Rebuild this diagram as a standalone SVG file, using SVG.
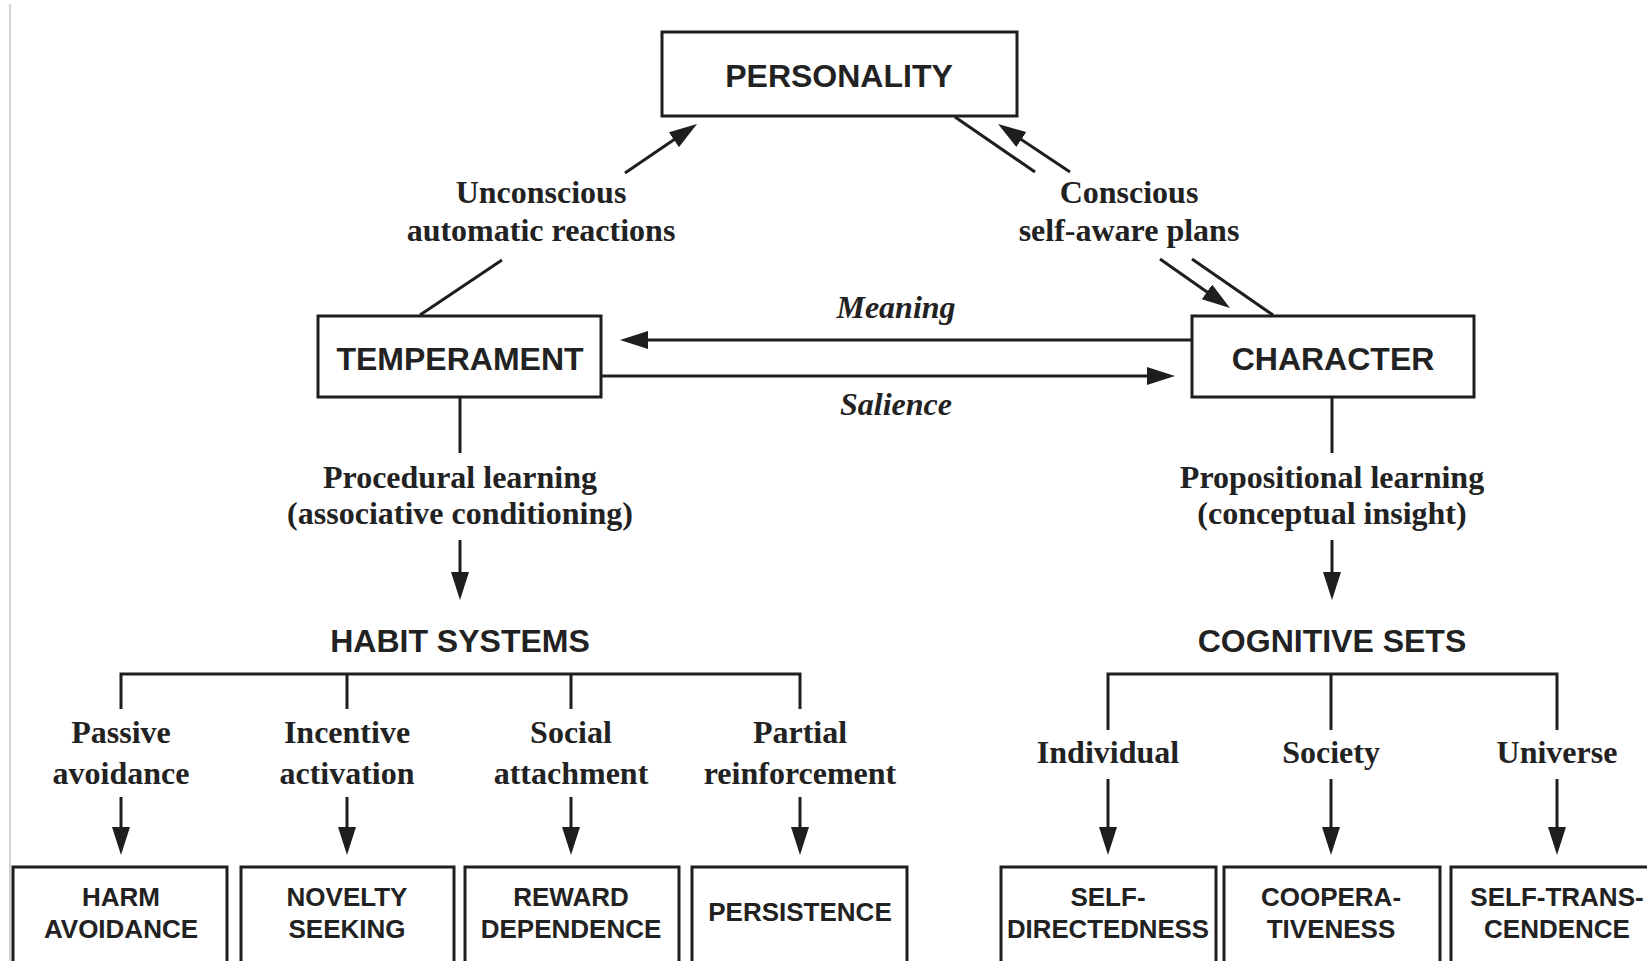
<svg xmlns="http://www.w3.org/2000/svg" width="1647" height="961" viewBox="0 0 1647 961">
<defs>
<style>
.box{fill:#fff;stroke:#1e1e1e;stroke-width:3}
.ln{fill:none;stroke:#1e1e1e;stroke-width:3}
.arr{fill:none;stroke:#1e1e1e;stroke-width:3;marker-end:url(#ah)}
.big{font-family:"Liberation Sans",Arial,sans-serif;font-weight:bold;font-size:32px;fill:#222;text-anchor:middle}
.sm{font-family:"Liberation Sans",Arial,sans-serif;font-weight:bold;font-size:26px;fill:#222;text-anchor:middle}
.ser{font-family:"Liberation Serif","Times New Roman",serif;font-weight:bold;font-size:32px;fill:#222;text-anchor:middle}
.it{font-style:italic}
</style>
<marker id="ah" markerUnits="userSpaceOnUse" markerWidth="28" markerHeight="18" refX="20" refY="9" orient="auto">
<path d="M0,0 L28,9 L0,18 z" fill="#1e1e1e"/>
</marker>
</defs>
<rect width="1647" height="961" fill="#fff"/>
<line x1="10" y1="4" x2="10" y2="961" stroke="#d4d4d4" stroke-width="2"/>

<g id="connectors">
<line class="arr" x1="625" y1="173" x2="690.4" y2="128.5"/>
<line class="ln" x1="420" y1="315" x2="502" y2="260"/>
<line class="ln" x1="955" y1="117" x2="1035" y2="172"/>
<line class="arr" x1="1070" y1="172" x2="1004.7" y2="128.4"/>
<line class="arr" x1="1160" y1="259" x2="1223.4" y2="303.4"/>
<line class="ln" x1="1192" y1="259" x2="1273" y2="315"/>
<line class="arr" x1="1191" y1="340" x2="628" y2="340"/>
<line class="arr" x1="601" y1="376" x2="1167" y2="376"/>
<line class="ln" x1="460" y1="397" x2="460" y2="453"/>
<line class="arr" x1="460" y1="540" x2="460" y2="592"/>
<line class="ln" x1="1332" y1="397" x2="1332" y2="453"/>
<line class="arr" x1="1332" y1="540" x2="1332" y2="592"/>
<path class="ln" d="M121,709 V674 H800 V709 M347,674 V709 M571,674 V709"/>
<path class="ln" d="M1108,730 V674 H1557 V730 M1331,674 V730"/>
<line class="arr" x1="121" y1="797" x2="121" y2="847"/>
<line class="arr" x1="347" y1="797" x2="347" y2="847"/>
<line class="arr" x1="571" y1="797" x2="571" y2="847"/>
<line class="arr" x1="800" y1="797" x2="800" y2="847"/>
<line class="arr" x1="1108" y1="779" x2="1108" y2="847"/>
<line class="arr" x1="1331" y1="779" x2="1331" y2="847"/>
<line class="arr" x1="1557" y1="779" x2="1557" y2="847"/>
</g>

<g id="labels">
<text class="ser" x="541" y="203">Unconscious</text>
<text class="ser" x="541" y="241">automatic reactions</text>
<text class="ser" x="1129" y="203">Conscious</text>
<text class="ser" x="1129" y="241">self-aware plans</text>
<text class="ser it" x="896" y="318">Meaning</text>
<text class="ser it" x="896" y="415">Salience</text>
<text class="ser" x="460" y="488">Procedural learning</text>
<text class="ser" x="460" y="524">(associative conditioning)</text>
<text class="ser" x="1332" y="488">Propositional learning</text>
<text class="ser" x="1332" y="524">(conceptual insight)</text>
<text class="ser" x="121" y="743">Passive</text>
<text class="ser" x="121" y="784">avoidance</text>
<text class="ser" x="347" y="743">Incentive</text>
<text class="ser" x="347" y="784">activation</text>
<text class="ser" x="571" y="743">Social</text>
<text class="ser" x="571" y="784">attachment</text>
<text class="ser" x="800" y="743">Partial</text>
<text class="ser" x="800" y="784">reinforcement</text>
<text class="ser" x="1108" y="763">Individual</text>
<text class="ser" x="1331" y="763">Society</text>
<text class="ser" x="1557" y="763">Universe</text>
</g>

<g id="personality">
<rect class="box" x="662" y="32" width="355" height="84"/>
<text class="big" x="839" y="87">PERSONALITY</text>
</g>
<g id="temperament">
<rect class="box" x="318" y="316" width="283" height="81"/>
<text class="big" x="460" y="370">TEMPERAMENT</text>
</g>
<g id="character">
<rect class="box" x="1192" y="316" width="282" height="81"/>
<text class="big" x="1333" y="370">CHARACTER</text>
</g>
<g id="habit-systems">
<text class="big" x="460" y="652">HABIT SYSTEMS</text>
</g>
<g id="cognitive-sets">
<text class="big" x="1332" y="652">COGNITIVE SETS</text>
</g>
<g id="harm-avoidance">
<rect class="box" x="13" y="867" width="214" height="100"/>
<text class="sm" x="121" y="906">HARM</text>
<text class="sm" x="121" y="938">AVOIDANCE</text>
</g>
<g id="novelty-seeking">
<rect class="box" x="241" y="867" width="213" height="100"/>
<text class="sm" x="347" y="906">NOVELTY</text>
<text class="sm" x="347" y="938">SEEKING</text>
</g>
<g id="reward-dependence">
<rect class="box" x="465" y="867" width="214" height="100"/>
<text class="sm" x="571" y="906">REWARD</text>
<text class="sm" x="571" y="938">DEPENDENCE</text>
</g>
<g id="persistence">
<rect class="box" x="692" y="867" width="215" height="100"/>
<text class="sm" x="800" y="921">PERSISTENCE</text>
</g>
<g id="self-directedness">
<rect class="box" x="1001" y="867" width="215" height="100"/>
<text class="sm" x="1108" y="906">SELF-</text>
<text class="sm" x="1108" y="938" textLength="202" lengthAdjust="spacingAndGlyphs">DIRECTEDNESS</text>
</g>
<g id="cooperativeness">
<rect class="box" x="1224" y="867" width="216" height="100"/>
<text class="sm" x="1331" y="906">COOPERA-</text>
<text class="sm" x="1331" y="938">TIVENESS</text>
</g>
<g id="self-transcendence">
<rect class="box" x="1451" y="867" width="220" height="100"/>
<text class="sm" x="1557" y="906">SELF-TRANS-</text>
<text class="sm" x="1557" y="938">CENDENCE</text>
</g>
</svg>
